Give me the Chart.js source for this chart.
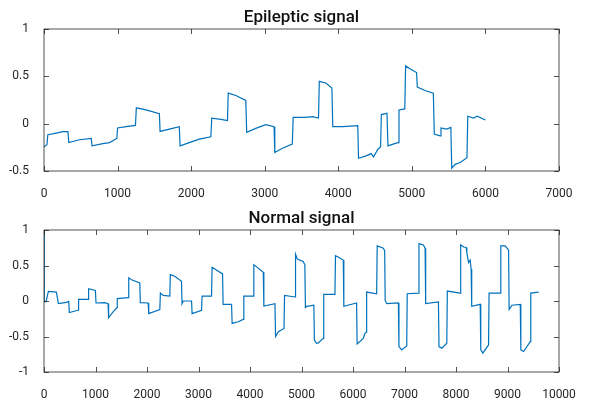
<!DOCTYPE html>
<html>
<head>
<meta charset="utf-8">
<script src="https://cdn.jsdelivr.net/npm/chart.js@4/dist/chart.umd.min.js"></script>
<style>
  html, body { margin: 0; padding: 0; background: #fff; overflow: hidden; }
  .panel { position: absolute; left: 0; width: 590px; height: 199px; }
</style>
</head>
<body>
<div class="panel" style="top:0"><canvas id="epiChart" width="590" height="199"></canvas></div>
<div class="panel" style="top:201px"><canvas id="normChart" width="590" height="199"></canvas></div>
<script>
// Epileptic recording: sample index / amplitude
const epiX = [0, 40, 52, 167, 258, 325, 337, 483, 642, 653, 800, 890, 990,
  1000, 1116, 1243, 1255, 1387, 1568, 1578, 1704, 1839, 1850, 1975, 2110, 2268,
  2280, 2404, 2494, 2504, 2607, 2743, 2755, 2878, 3014, 3127, 3137, 3240, 3375,
  3387, 3557, 3648, 3731, 3742, 3831, 3913, 3925, 4059, 4265, 4275, 4379, 4447,
  4479, 4539, 4575, 4585, 4662, 4675, 4744, 4813, 4825, 4904, 4915, 4973, 5064,
  5074, 5178, 5292, 5305, 5384, 5396, 5475, 5530, 5542, 5589, 5658, 5749, 5760,
  5840, 5886, 6000];
const epiY = [-0.245, -0.223, -0.117, -0.10, -0.085, -0.085, -0.20, -0.17, -0.156,
  -0.234, -0.21, -0.20, -0.156, -0.046, -0.032, -0.018, 0.167, 0.145, 0.106,
  -0.082, -0.057, -0.032, -0.234, -0.20, -0.163, -0.138, 0.057, 0.046, 0.032,
  0.323, 0.298, 0.245, -0.092, -0.05, -0.011, -0.032, -0.305, -0.26, -0.216,
  0.067, 0.067, 0.074, 0.06, 0.447, 0.43, 0.376, -0.032, -0.032, -0.021, -0.365,
  -0.34, -0.316, -0.35, -0.27, -0.245, 0.096, 0.11, -0.234, -0.216, -0.20, 0.145,
  0.156, 0.61, 0.58, 0.54, 0.387, 0.35, 0.323, -0.11, -0.128, -0.046, -0.057,
  -0.039, -0.47, -0.43, -0.41, -0.36, 0.078, 0.06, 0.078, 0.039];

// Normal recording
const normX = [0, 5, 40, 85, 240, 280, 434, 480, 492, 661, 672, 855, 866, 998,
  1010, 1179, 1244, 1255, 1341, 1419, 1423, 1633, 1645, 1700, 1860, 1870, 2022, 2034,
  2249, 2260, 2314, 2443, 2453, 2540, 2670, 2680, 2702, 2865, 2876, 3059, 3070,
  3253, 3264, 3467, 3478, 3642, 3653, 3772, 3869, 3880, 4064, 4075, 4258, 4269,
  4485, 4496, 4550, 4660, 4671, 4874, 4884, 4920, 5032, 5065, 5076, 5100, 5240,
  5250, 5292, 5325, 5421, 5432, 5649, 5660, 5710, 5811, 5822, 6070, 6080, 6200,
  6232, 6255, 6265, 6459, 6470, 6589, 6615, 6625, 6654, 6881, 6892, 6946, 7043,
  7053, 7270, 7281, 7367, 7400, 7411, 7659, 7670, 7724, 7821, 7832, 8080, 8091,
  8150, 8197, 8210, 8243, 8275, 8294, 8305, 8470, 8481, 8521, 8632, 8642, 8859,
  8870, 8956, 9021, 9032, 9086, 9248, 9259, 9313, 9442, 9452, 9604];
const normY = [1.0, -0.01, -0.01, 0.135, 0.126, -0.037, -0.019, -0.005, -0.163,
  -0.13, 0.023, 0.023, 0.172, 0.149, -0.028, -0.023, -0.037, -0.233, -0.153,
  -0.093, 0.033, 0.047, 0.326, 0.30, 0.256, -0.023, -0.028, -0.177, -0.121, 0.112,
  0.079, 0.07, 0.372, 0.349, 0.279, -0.037, 0.0, 0.0, -0.177, -0.13, 0.07, 0.07,
  0.474, 0.381, -0.047, -0.047, -0.316, -0.293, -0.26, 0.07, 0.07, 0.512, 0.405,
  -0.07, -0.037, -0.502, -0.433, -0.386, 0.079, 0.056, 0.66, 0.59, 0.558, 0.51,
  -0.093, -0.075, -0.06, -0.549, -0.595, -0.59, -0.526, 0.093, 0.093, 0.637,
  0.62, 0.577, -0.074, -0.028, -0.605, -0.526, -0.456, -0.44, 0.126, 0.102,
  0.777, 0.744, 0.71, 0.009, -0.037, -0.028, -0.642, -0.688, -0.633, 0.102,
  0.112, 0.809, 0.79, 0.744, -0.037, -0.014, -0.642, -0.665, -0.595, 0.14, 0.112,
  0.79, 0.76, 0.753, 0.684, 0.544, 0.577, 0.451, -0.074, -0.047, -0.688, -0.735,
  -0.619, 0.112, 0.112, 0.777, 0.777, 0.716, -0.121, -0.06, -0.047, -0.688,
  -0.712, -0.572, 0.112, 0.126];

const epiXTicks = [0, 1000, 2000, 3000, 4000, 5000, 6000, 7000];
const epiYTicks = [-0.5, 0, 0.5, 1];
const normXTicks = [0, 1000, 2000, 3000, 4000, 5000, 6000, 7000, 8000, 9000, 10000];
const normYTicks = [-1, -0.5, 0, 0.5, 1];

const lineColor = 'rgb(0, 114, 189)';
const axisColor = '#262626';
const fontFamily = 'Roboto, "Liberation Sans", sans-serif';

// box around the plot area, tick marks pointing inwards, title above
const matlabAxes = {
  id: 'matlabAxes',
  afterDraw(chart, args, opts) {
    const { ctx, chartArea: a, scales: { x, y } } = chart;
    ctx.save();
    ctx.strokeStyle = axisColor;
    ctx.lineWidth = 0.8;
    ctx.strokeRect(a.left, a.top, a.width, a.height);
    ctx.beginPath();
    x.ticks.forEach(t => {
      const px = Math.round(x.getPixelForValue(t.value)) + 0.5;
      ctx.moveTo(px, a.bottom); ctx.lineTo(px, a.bottom - 5);
      ctx.moveTo(px, a.top); ctx.lineTo(px, a.top + 5);
    });
    y.ticks.forEach(t => {
      const py = Math.round(y.getPixelForValue(t.value)) + 0.5;
      ctx.moveTo(a.left, py); ctx.lineTo(a.left + 5, py);
      ctx.moveTo(a.right, py); ctx.lineTo(a.right - 5, py);
    });
    ctx.stroke();
    ctx.fillStyle = '#111';
    ctx.font = '500 17px ' + fontFamily;
    ctx.textAlign = 'center';
    ctx.textBaseline = 'alphabetic';
    ctx.fillText(opts.text, (a.left + a.right) / 2, a.top - 7);
    ctx.restore();
  }
};

const plainNumber = v => String(v);

function makePanel(id, title, xs, ys, xTicks, yTicks) {
  const points = xs.map((v, i) => ({ x: v, y: ys[i] }));
  return new Chart(document.getElementById(id), {
    type: 'line',
    data: {
      datasets: [{
        data: points,
        borderColor: lineColor,
        borderWidth: 1.2,
        pointRadius: 0,
        tension: 0,
        fill: false
      }]
    },
    options: {
      responsive: false,
      animation: false,
      layout: { padding: { top: 29, right: 31, left: 0, bottom: 0 } },
      plugins: {
        legend: { display: false },
        tooltip: { enabled: false },
        title: { display: false },
        matlabAxes: { text: title }
      },
      scales: {
        x: {
          type: 'linear',
          min: xTicks[0],
          max: xTicks[xTicks.length - 1],
          afterBuildTicks: s => { s.ticks = xTicks.map(v => ({ value: v })); },
          afterFit: s => { s.height = 28; },
          grid: { display: false },
          border: { display: false },
          ticks: { padding: 8, color: axisColor, maxRotation: 0, callback: plainNumber,
                   font: { family: fontFamily, size: 12 } }
        },
        y: {
          min: yTicks[0],
          max: yTicks[yTicks.length - 1],
          afterBuildTicks: s => { s.ticks = yTicks.map(v => ({ value: v })); },
          afterFit: s => { s.width = 44; },
          grid: { display: false },
          border: { display: false },
          ticks: { padding: 7, color: axisColor, callback: plainNumber,
                   font: { family: fontFamily, size: 12 } }
        }
      }
    },
    plugins: [matlabAxes]
  });
}

makePanel('epiChart', 'Epileptic signal', epiX, epiY, epiXTicks, epiYTicks);
makePanel('normChart', 'Normal signal', normX, normY, normXTicks, normYTicks);
</script>
</body>
</html>
